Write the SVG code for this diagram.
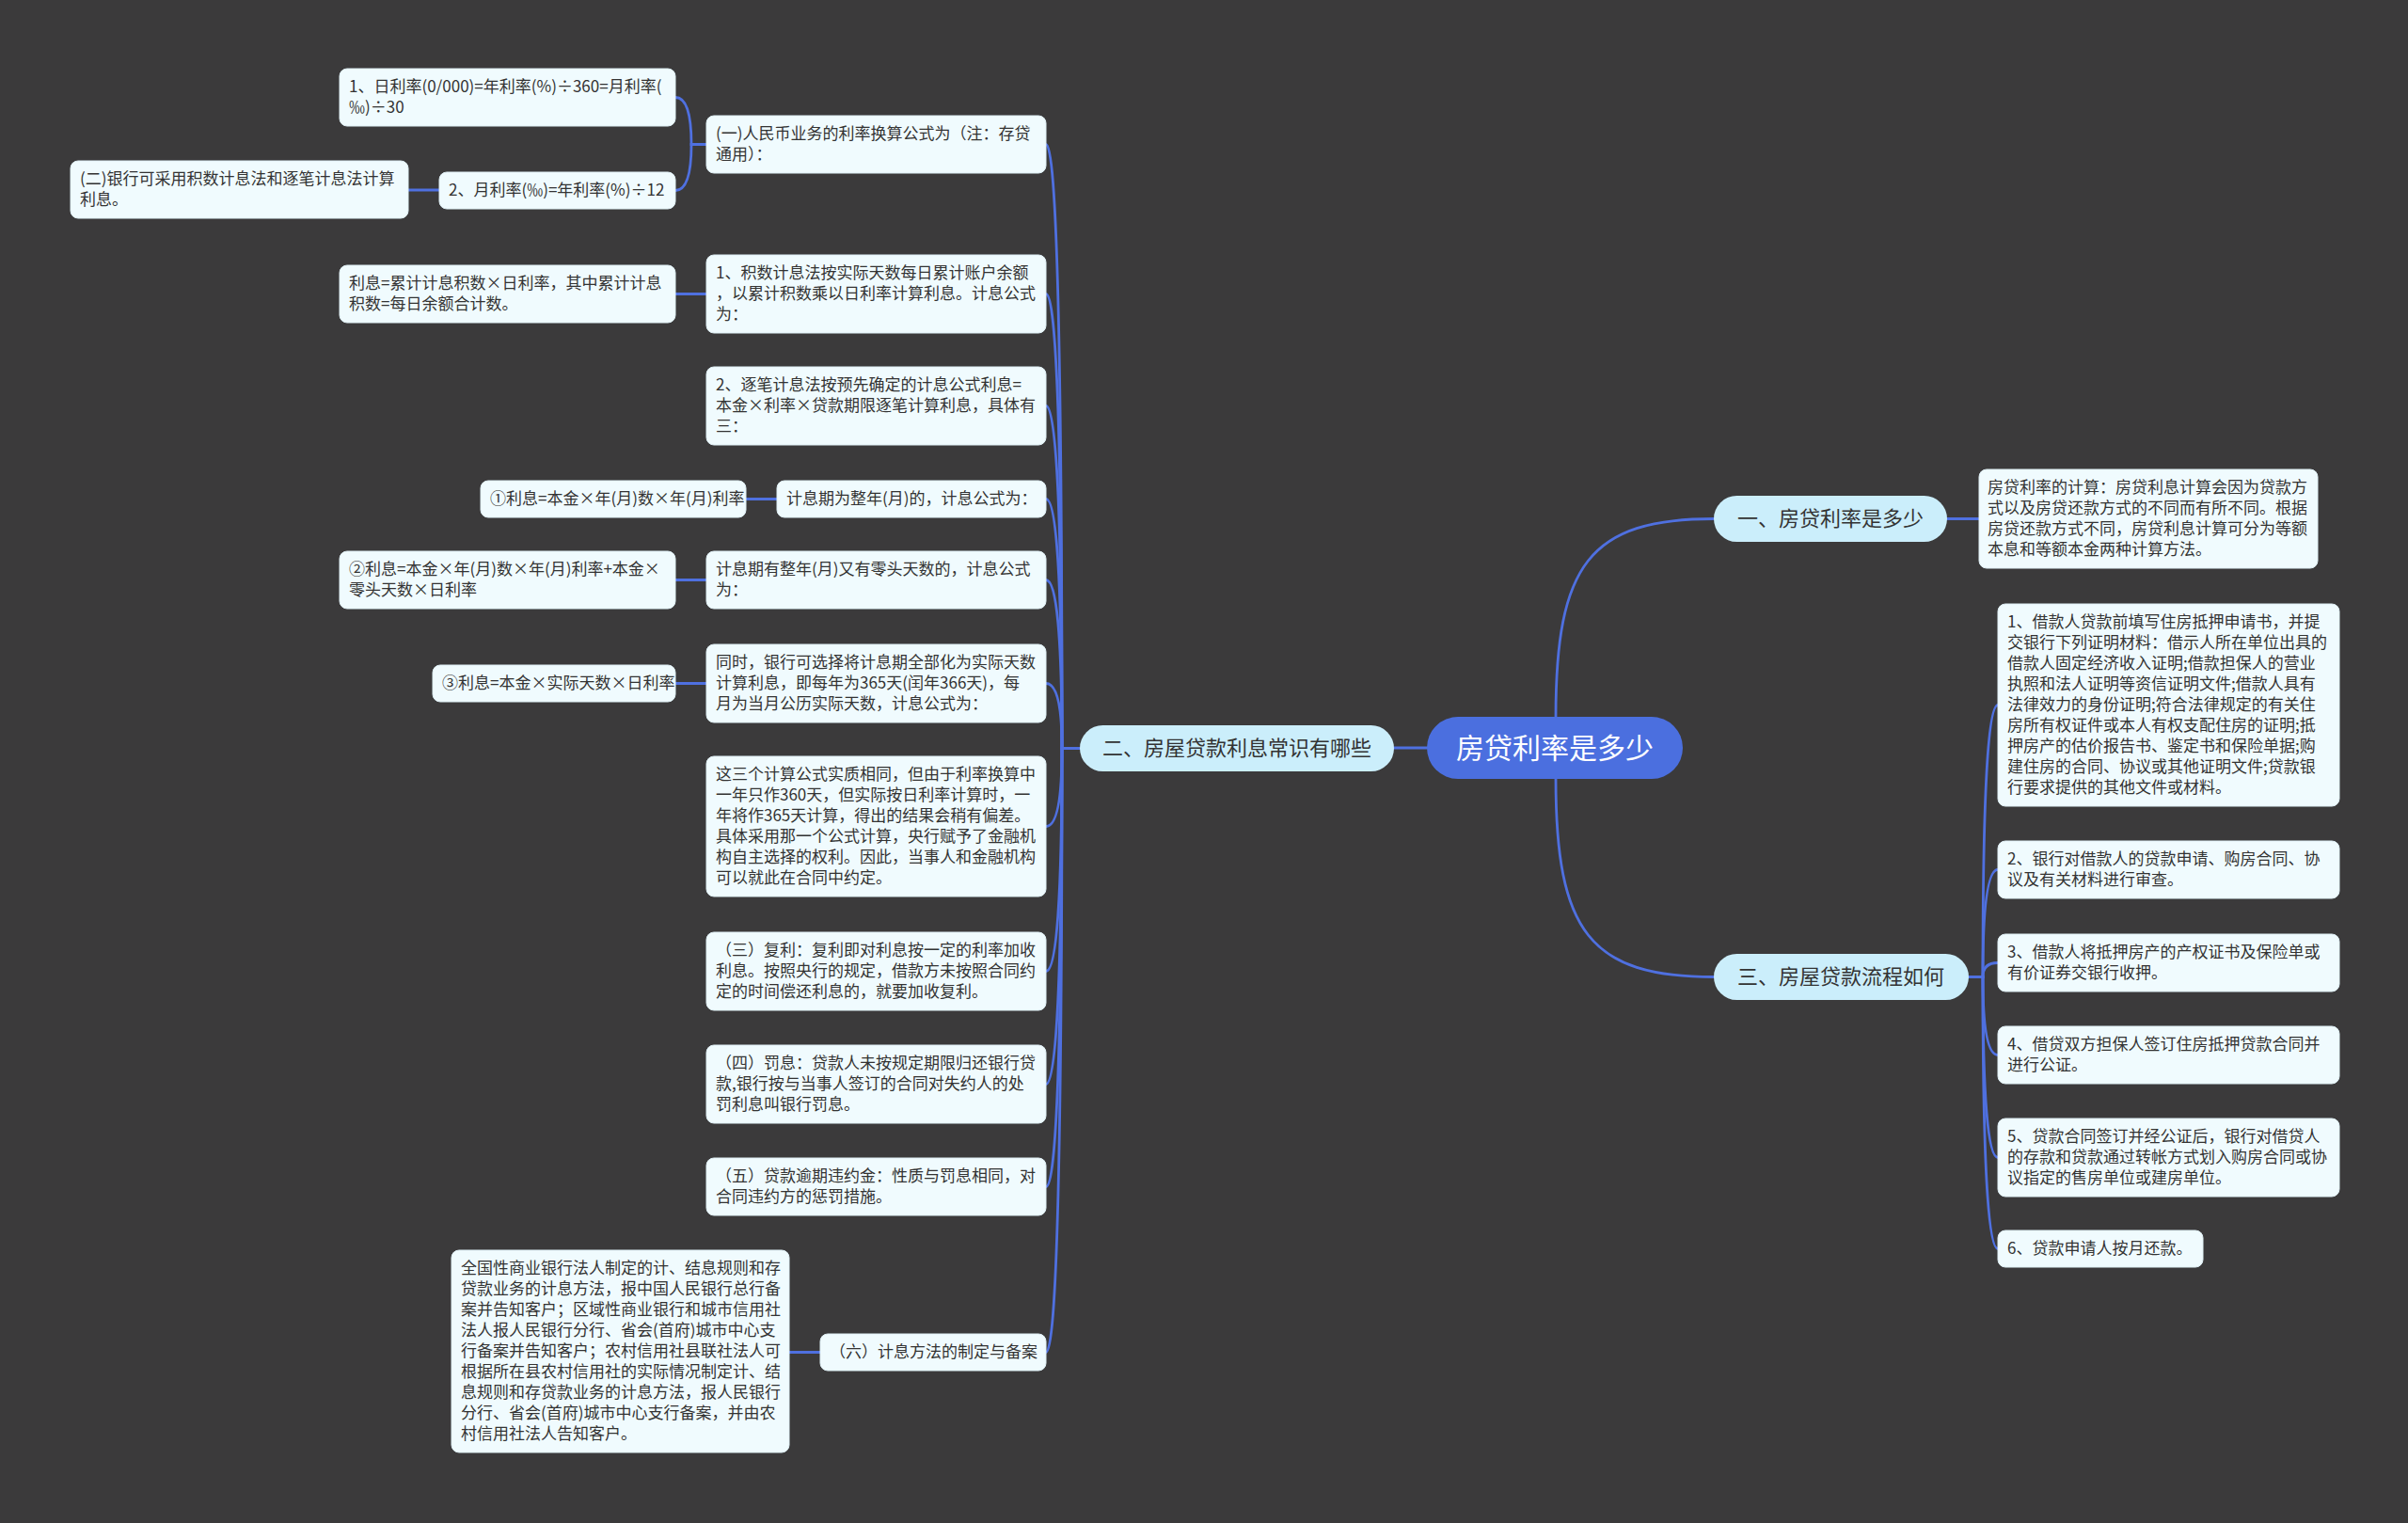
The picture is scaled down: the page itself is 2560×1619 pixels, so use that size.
<svg xmlns="http://www.w3.org/2000/svg" width="2560" height="1619" viewBox="0 0 2560 1619">
<style>
.bg{fill:#3b3a3b}
.conn path,.conn line{fill:none;stroke:#4f70e0;stroke-width:2.8;stroke-linecap:round}
.leaf rect{fill:#f0fbfe;stroke:#dfeff5;stroke-width:1}
.leaf text{font-family:"Noto Sans CJK SC","Noto Sans",sans-serif;font-size:17px;fill:#333333}
.branch rect{fill:#cbeefb}
.branch text{font-family:"Noto Sans CJK SC","Noto Sans",sans-serif;font-size:22px;fill:#333333;text-anchor:middle}
.root rect{fill:#4b6fdf}
.root text{font-family:"Noto Sans CJK SC","Noto Sans",sans-serif;font-size:30px;fill:#ffffff;text-anchor:middle}
</style>
<rect class="bg" x="0" y="0" width="2560" height="1619"/>

<g id="connectors" class="conn">
  <line x1="1517" y1="795" x2="1482" y2="795"/>
  <path d="M1654,762 C1654,600 1690,551.5 1822,551.5"/>
  <path d="M1654,828 C1654,990 1690,1038.5 1822,1038.5"/>
  <line x1="2070" y1="551.5" x2="2104" y2="551.5"/>
  <path d="M2093,1038.5 L2108,1038.5 Q2108,749.5 2124,749.5"/>
  <path d="M2093,1038.5 L2108,1038.5 Q2108,924.5 2124,924.5"/>
  <path d="M2093,1038.5 L2108,1038.5 Q2108,1023.5 2124,1023.5"/>
  <path d="M2093,1038.5 L2108,1038.5 Q2108,1121.5 2124,1121.5"/>
  <path d="M2093,1038.5 L2108,1038.5 Q2108,1230.5 2124,1230.5"/>
  <path d="M2093,1038.5 L2108,1038.5 Q2108,1327.5 2124,1327.5"/>
  <path d="M1148,795.5 L1129,795.5 Q1129,153.5 1112,153.5"/>
  <path d="M1148,795.5 L1129,795.5 Q1129,312.5 1112,312.5"/>
  <path d="M1148,795.5 L1129,795.5 Q1129,431.5 1112,431.5"/>
  <path d="M1148,795.5 L1129,795.5 Q1129,530.5 1112,530.5"/>
  <path d="M1148,795.5 L1129,795.5 Q1129,616.5 1112,616.5"/>
  <path d="M1148,795.5 L1129,795.5 Q1129,726.5 1112,726.5"/>
  <path d="M1148,795.5 L1129,795.5 Q1129,878.5 1112,878.5"/>
  <path d="M1148,795.5 L1129,795.5 Q1129,1032.5 1112,1032.5"/>
  <path d="M1148,795.5 L1129,795.5 Q1129,1152.5 1112,1152.5"/>
  <path d="M1148,795.5 L1129,795.5 Q1129,1261.5 1112,1261.5"/>
  <path d="M1148,795.5 L1129,795.5 Q1129,1437.5 1112,1437.5"/>
  <path d="M751,153.5 L735,153.5 Q735,103.5 718,103.5"/>
  <path d="M751,153.5 L735,153.5 Q735,202.5 718,202.5"/>
  <line x1="467" y1="202" x2="434" y2="202"/>
  <line x1="751" y1="312.5" x2="718" y2="312.5"/>
  <line x1="826" y1="530.5" x2="793" y2="530.5"/>
  <line x1="751" y1="616.5" x2="718" y2="616.5"/>
  <line x1="751" y1="726.5" x2="718" y2="726.5"/>
  <line x1="872" y1="1437.5" x2="839" y2="1437.5"/>
</g>

<g id="root" class="root">
  <rect x="1517" y="762" width="272" height="66" rx="33"/>
  <text x="1653" y="806">房贷利率是多少</text>
</g>

<g id="branch1" class="branch">
  <rect x="1822" y="527" width="248" height="49" rx="24.5"/>
  <text x="1946" y="559">一、房贷利率是多少</text>
</g>
<g id="branch2" class="branch">
  <rect x="1148" y="771" width="334" height="49" rx="24.5"/>
  <text x="1315" y="803">二、房屋贷款利息常识有哪些</text>
</g>
<g id="branch3" class="branch">
  <rect x="1822" y="1014" width="271" height="49" rx="24.5"/>
  <text x="1957" y="1046">三、房屋贷款流程如何</text>
</g>

<g id="r1" class="leaf">
  <rect x="2104" y="499" width="360" height="105" rx="8"/>
  <text><tspan x="2113" y="524">房贷利率的计算：房贷利息计算会因为贷款方</tspan><tspan x="2113" y="546">式以及房贷还款方式的不同而有所不同。根据</tspan><tspan x="2113" y="568">房贷还款方式不同，房贷利息计算可分为等额</tspan><tspan x="2113" y="590">本息和等额本金两种计算方法。</tspan></text>
</g>

<g id="s1" class="leaf">
  <rect x="2124" y="642" width="363" height="215" rx="8"/>
  <text><tspan x="2134" y="667">1、借款人贷款前填写住房抵押申请书，并提</tspan><tspan x="2134" y="689">交银行下列证明材料：借示人所在单位出具的</tspan><tspan x="2134" y="711">借款人固定经济收入证明;借款担保人的营业</tspan><tspan x="2134" y="733">执照和法人证明等资信证明文件;借款人具有</tspan><tspan x="2134" y="755">法律效力的身份证明;符合法律规定的有关住</tspan><tspan x="2134" y="777">房所有权证件或本人有权支配住房的证明;抵</tspan><tspan x="2134" y="799">押房产的估价报告书、鉴定书和保险单据;购</tspan><tspan x="2134" y="821">建住房的合同、协议或其他证明文件;贷款银</tspan><tspan x="2134" y="843">行要求提供的其他文件或材料。</tspan></text>
</g>
<g id="s2" class="leaf">
  <rect x="2124" y="894" width="363" height="61" rx="8"/>
  <text><tspan x="2134" y="919">2、银行对借款人的贷款申请、购房合同、协</tspan><tspan x="2134" y="941">议及有关材料进行审查。</tspan></text>
</g>
<g id="s3" class="leaf">
  <rect x="2124" y="993" width="363" height="61" rx="8"/>
  <text><tspan x="2134" y="1018">3、借款人将抵押房产的产权证书及保险单或</tspan><tspan x="2134" y="1040">有价证券交银行收押。</tspan></text>
</g>
<g id="s4" class="leaf">
  <rect x="2124" y="1091" width="363" height="61" rx="8"/>
  <text><tspan x="2134" y="1116">4、借贷双方担保人签订住房抵押贷款合同并</tspan><tspan x="2134" y="1138">进行公证。</tspan></text>
</g>
<g id="s5" class="leaf">
  <rect x="2124" y="1189" width="363" height="83" rx="8"/>
  <text><tspan x="2134" y="1214">5、贷款合同签订并经公证后，银行对借贷人</tspan><tspan x="2134" y="1236">的存款和贷款通过转帐方式划入购房合同或协</tspan><tspan x="2134" y="1258">议指定的售房单位或建房单位。</tspan></text>
</g>
<g id="s6" class="leaf">
  <rect x="2124" y="1308" width="218" height="39" rx="8"/>
  <text><tspan x="2134" y="1333">6、贷款申请人按月还款。</tspan></text>
</g>

<g id="l1" class="leaf">
  <rect x="361" y="73" width="357" height="61" rx="8"/>
  <text><tspan x="371" y="98">1、日利率(0/000)=年利率(%)÷360=月利率(</tspan><tspan x="371" y="120">‰)÷30</tspan></text>
</g>
<g id="l2" class="leaf">
  <rect x="467" y="183" width="251" height="39" rx="8"/>
  <text><tspan x="477" y="208">2、月利率(‰)=年利率(%)÷12</tspan></text>
</g>
<g id="l3" class="leaf">
  <rect x="75" y="171" width="359" height="61" rx="8"/>
  <text><tspan x="85" y="196">(二)银行可采用积数计息法和逐笔计息法计算</tspan><tspan x="85" y="218">利息。</tspan></text>
</g>
<g id="l4" class="leaf">
  <rect x="751" y="123" width="361" height="61" rx="8"/>
  <text><tspan x="761" y="148">(一)人民币业务的利率换算公式为（注：存贷</tspan><tspan x="761" y="170">通用）：</tspan></text>
</g>
<g id="l5" class="leaf">
  <rect x="751" y="271" width="361" height="83" rx="8"/>
  <text><tspan x="761" y="296">1、积数计息法按实际天数每日累计账户余额</tspan><tspan x="761" y="318">，以累计积数乘以日利率计算利息。计息公式</tspan><tspan x="761" y="340">为：</tspan></text>
</g>
<g id="l6" class="leaf">
  <rect x="361" y="282" width="357" height="61" rx="8"/>
  <text><tspan x="371" y="307">利息=累计计息积数×日利率，其中累计计息</tspan><tspan x="371" y="329">积数=每日余额合计数。</tspan></text>
</g>
<g id="l7" class="leaf">
  <rect x="751" y="390" width="361" height="83" rx="8"/>
  <text><tspan x="761" y="415">2、逐笔计息法按预先确定的计息公式利息=</tspan><tspan x="761" y="437">本金×利率×贷款期限逐笔计算利息，具体有</tspan><tspan x="761" y="459">三：</tspan></text>
</g>
<g id="l8" class="leaf">
  <rect x="826" y="511" width="286" height="39" rx="8"/>
  <text><tspan x="836" y="536">计息期为整年(月)的，计息公式为：</tspan></text>
</g>
<g id="l9" class="leaf">
  <rect x="511" y="511" width="282" height="39" rx="8"/>
  <text><tspan x="521" y="536">①利息=本金×年(月)数×年(月)利率</tspan></text>
</g>
<g id="l10" class="leaf">
  <rect x="751" y="586" width="361" height="61" rx="8"/>
  <text><tspan x="761" y="611">计息期有整年(月)又有零头天数的，计息公式</tspan><tspan x="761" y="633">为：</tspan></text>
</g>
<g id="l11" class="leaf">
  <rect x="361" y="586" width="357" height="61" rx="8"/>
  <text><tspan x="371" y="611">②利息=本金×年(月)数×年(月)利率+本金×</tspan><tspan x="371" y="633">零头天数×日利率</tspan></text>
</g>
<g id="l12" class="leaf">
  <rect x="751" y="685" width="361" height="83" rx="8"/>
  <text><tspan x="761" y="710">同时，银行可选择将计息期全部化为实际天数</tspan><tspan x="761" y="732">计算利息，即每年为365天(闰年366天)，每</tspan><tspan x="761" y="754">月为当月公历实际天数，计息公式为：</tspan></text>
</g>
<g id="l13" class="leaf">
  <rect x="460" y="707" width="258" height="39" rx="8"/>
  <text><tspan x="470" y="732">③利息=本金×实际天数×日利率</tspan></text>
</g>
<g id="l14" class="leaf">
  <rect x="751" y="804" width="361" height="149" rx="8"/>
  <text><tspan x="761" y="829">这三个计算公式实质相同，但由于利率换算中</tspan><tspan x="761" y="851">一年只作360天，但实际按日利率计算时，一</tspan><tspan x="761" y="873">年将作365天计算，得出的结果会稍有偏差。</tspan><tspan x="761" y="895">具体采用那一个公式计算，央行赋予了金融机</tspan><tspan x="761" y="917">构自主选择的权利。因此，当事人和金融机构</tspan><tspan x="761" y="939">可以就此在合同中约定。</tspan></text>
</g>
<g id="l15" class="leaf">
  <rect x="751" y="991" width="361" height="83" rx="8"/>
  <text><tspan x="761" y="1016">（三）复利：复利即对利息按一定的利率加收</tspan><tspan x="761" y="1038">利息。按照央行的规定，借款方未按照合同约</tspan><tspan x="761" y="1060">定的时间偿还利息的，就要加收复利。</tspan></text>
</g>
<g id="l16" class="leaf">
  <rect x="751" y="1111" width="361" height="83" rx="8"/>
  <text><tspan x="761" y="1136">（四）罚息：贷款人未按规定期限归还银行贷</tspan><tspan x="761" y="1158">款,银行按与当事人签订的合同对失约人的处</tspan><tspan x="761" y="1180">罚利息叫银行罚息。</tspan></text>
</g>
<g id="l17" class="leaf">
  <rect x="751" y="1231" width="361" height="61" rx="8"/>
  <text><tspan x="761" y="1256">（五）贷款逾期违约金：性质与罚息相同，对</tspan><tspan x="761" y="1278">合同违约方的惩罚措施。</tspan></text>
</g>
<g id="l18" class="leaf">
  <rect x="872" y="1418" width="240" height="39" rx="8"/>
  <text><tspan x="882" y="1443">（六）计息方法的制定与备案</tspan></text>
</g>
<g id="l19" class="leaf">
  <rect x="480" y="1329" width="359" height="215" rx="8"/>
  <text><tspan x="490" y="1354">全国性商业银行法人制定的计、结息规则和存</tspan><tspan x="490" y="1376">贷款业务的计息方法，报中国人民银行总行备</tspan><tspan x="490" y="1398">案并告知客户；区域性商业银行和城市信用社</tspan><tspan x="490" y="1420">法人报人民银行分行、省会(首府)城市中心支</tspan><tspan x="490" y="1442">行备案并告知客户；农村信用社县联社法人可</tspan><tspan x="490" y="1464">根据所在县农村信用社的实际情况制定计、结</tspan><tspan x="490" y="1486">息规则和存贷款业务的计息方法，报人民银行</tspan><tspan x="490" y="1508">分行、省会(首府)城市中心支行备案，并由农</tspan><tspan x="490" y="1530">村信用社法人告知客户。</tspan></text>
</g>
</svg>
